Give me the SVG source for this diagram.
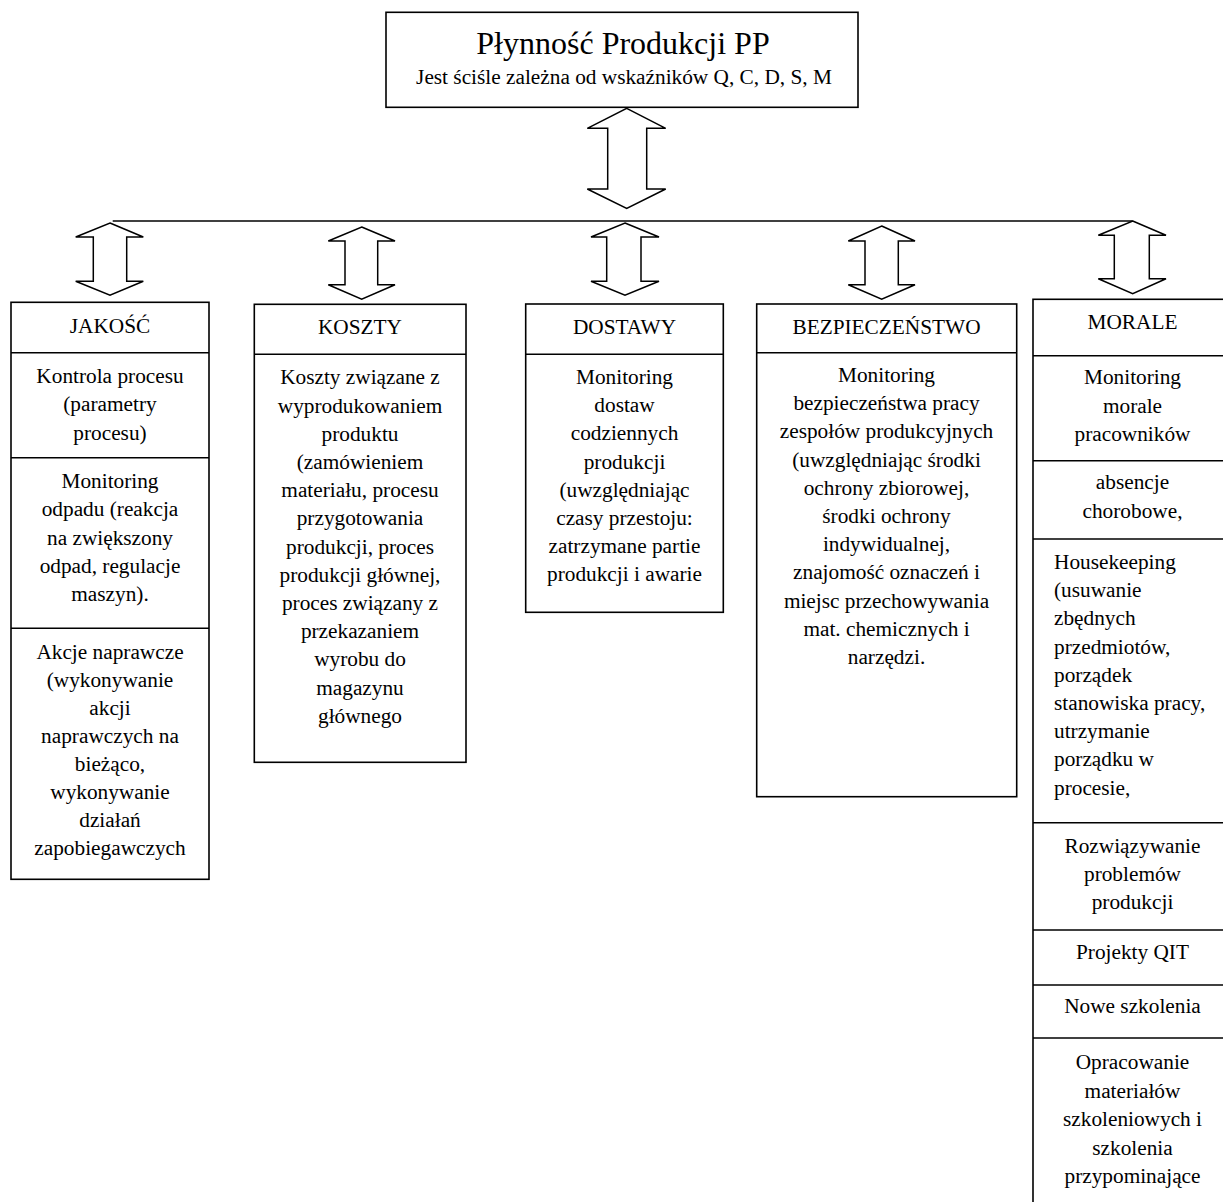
<svg xmlns="http://www.w3.org/2000/svg" width="1223" height="1202" viewBox="0 0 1223 1202">
  <style>
    .box { fill: #ffffff; stroke: #000000; stroke-width: 1.6; }
    .sep { fill: none; stroke: #000000; stroke-width: 1.6; }
    .arrow { fill: #ffffff; stroke: #000000; stroke-width: 1.5; stroke-linejoin: miter; }
    .bus { fill: none; stroke: #000000; stroke-width: 1.5; }
    text { font-family: "Liberation Serif", "Times New Roman", serif; fill: #000000; }
    .title { font-size: 32px; text-anchor: middle; }
    .t { font-size: 21.3px; text-anchor: middle; }
    .tl { font-size: 21.3px; text-anchor: start; }
  </style>

  <rect width="1223" height="1202" fill="#ffffff"/>

  <!-- root node -->
  <g id="node-pp">
    <rect class="box" x="386" y="12.3" width="472" height="95"/>
    <text class="title" x="623" y="53.5">Płynność Produkcji PP</text>
    <text class="t" x="624" y="83.5">Jest ściśle zależna od wskaźników Q, C, D, S, M</text>
  </g>

  <!-- connectors: bus line and double-headed block arrows -->
  <g id="connectors">
    <line class="bus" x1="112.7" y1="221" x2="1132.7" y2="221"/>
    <!-- root to bus -->
    <path class="arrow" d="M626.7,108.3 L665.7,128.3 L646.7,128.3 L646.7,189 L665.7,189 L626.7,208.3 L587.3,189 L607.7,189 L607.7,128.3 L587.3,128.3 Z"/>
    <!-- bus to JAKOŚĆ -->
    <path class="arrow" d="M110,223 L143.3,237 L126.7,237 L126.7,281.3 L143.3,281.3 L110,295.3 L75.7,281.3 L93.3,281.3 L93.3,237 L75.7,237 Z"/>
    <!-- bus to KOSZTY -->
    <path class="arrow" d="M361.7,227 L395,241 L377.7,241 L377.7,284.7 L395,284.7 L361.7,299.3 L328.3,284.7 L345,284.7 L345,241 L328.3,241 Z"/>
    <!-- bus to DOSTAWY -->
    <path class="arrow" d="M625,223 L659,237 L641,237 L641,281.3 L659,281.3 L625,295.3 L591,281.3 L606.7,281.3 L606.7,237 L591,237 Z"/>
    <!-- bus to BEZPIECZEŃSTWO -->
    <path class="arrow" d="M881.7,226 L915,241 L898.3,241 L898.3,284.7 L915,284.7 L881.7,299.3 L848.3,284.7 L865,284.7 L865,241 L848.3,241 Z"/>
    <!-- bus to MORALE -->
    <path class="arrow" d="M1132.7,221 L1166,235.3 L1149.3,235.3 L1149.3,278.7 L1166,278.7 L1132.7,293.7 L1098.3,278.7 L1114.3,278.7 L1114.3,235.3 L1098.3,235.3 Z"/>
  </g>

  <!-- JAKOŚĆ -->
  <g id="node-jakosc">
    <rect class="box" x="11" y="302.3" width="198" height="577"/>
    <line class="sep" x1="11" y1="352.7" x2="209" y2="352.7"/>
    <line class="sep" x1="11" y1="457.7" x2="209" y2="457.7"/>
    <line class="sep" x1="11" y1="628.3" x2="209" y2="628.3"/>
    <text class="t" x="110" y="333">JAKOŚĆ</text>
    <text class="t" x="110" y="383">Kontrola procesu</text>
    <text class="t" x="110" y="411.3">(parametry</text>
    <text class="t" x="110" y="439.6">procesu)</text>
    <text class="t" x="110" y="488">Monitoring</text>
    <text class="t" x="110" y="516.3">odpadu (reakcja</text>
    <text class="t" x="110" y="544.6">na zwiększony</text>
    <text class="t" x="110" y="572.9">odpad, regulacje</text>
    <text class="t" x="110" y="601.2">maszyn).</text>
    <text class="t" x="110" y="658.5">Akcje naprawcze</text>
    <text class="t" x="110" y="686.5">(wykonywanie</text>
    <text class="t" x="110" y="714.5">akcji</text>
    <text class="t" x="110" y="742.5">naprawczych na</text>
    <text class="t" x="110" y="770.5">bieżąco,</text>
    <text class="t" x="110" y="798.5">wykonywanie</text>
    <text class="t" x="110" y="826.5">działań</text>
    <text class="t" x="110" y="854.5">zapobiegawczych</text>
  </g>

  <!-- KOSZTY -->
  <g id="node-koszty">
    <rect class="box" x="254.3" y="304.3" width="211.7" height="458"/>
    <line class="sep" x1="254.3" y1="354.3" x2="466" y2="354.3"/>
    <text class="t" x="360" y="334">KOSZTY</text>
    <text class="t" x="360" y="384.3">Koszty związane z</text>
    <text class="t" x="360" y="412.5">wyprodukowaniem</text>
    <text class="t" x="360" y="440.7">produktu</text>
    <text class="t" x="360" y="468.9">(zamówieniem</text>
    <text class="t" x="360" y="497.1">materiału, procesu</text>
    <text class="t" x="360" y="525.3">przygotowania</text>
    <text class="t" x="360" y="553.5">produkcji, proces</text>
    <text class="t" x="360" y="581.7">produkcji głównej,</text>
    <text class="t" x="360" y="609.9">proces związany z</text>
    <text class="t" x="360" y="638.1">przekazaniem</text>
    <text class="t" x="360" y="666.3">wyrobu do</text>
    <text class="t" x="360" y="694.5">magazynu</text>
    <text class="t" x="360" y="722.7">głównego</text>
  </g>

  <!-- DOSTAWY -->
  <g id="node-dostawy">
    <rect class="box" x="525.7" y="304" width="197.6" height="308.3"/>
    <line class="sep" x1="525.7" y1="354.3" x2="723.3" y2="354.3"/>
    <text class="t" x="624.5" y="334">DOSTAWY</text>
    <text class="t" x="624.5" y="384">Monitoring</text>
    <text class="t" x="624.5" y="412.2">dostaw</text>
    <text class="t" x="624.5" y="440.4">codziennych</text>
    <text class="t" x="624.5" y="468.6">produkcji</text>
    <text class="t" x="624.5" y="496.8">(uwzględniając</text>
    <text class="t" x="624.5" y="525">czasy przestoju:</text>
    <text class="t" x="624.5" y="553.2">zatrzymane partie</text>
    <text class="t" x="624.5" y="581.4">produkcji i awarie</text>
  </g>

  <!-- BEZPIECZEŃSTWO -->
  <g id="node-bezpieczenstwo">
    <rect class="box" x="756.7" y="304" width="260" height="492.7"/>
    <line class="sep" x1="756.7" y1="352.7" x2="1016.7" y2="352.7"/>
    <text class="t" x="886.5" y="334">BEZPIECZEŃSTWO</text>
    <text class="t" x="886.5" y="382">Monitoring</text>
    <text class="t" x="886.5" y="410.2">bezpieczeństwa pracy</text>
    <text class="t" x="886.5" y="438.4">zespołów produkcyjnych</text>
    <text class="t" x="886.5" y="466.6">(uwzględniając środki</text>
    <text class="t" x="886.5" y="494.8">ochrony zbiorowej,</text>
    <text class="t" x="886.5" y="523">środki ochrony</text>
    <text class="t" x="886.5" y="551.2">indywidualnej,</text>
    <text class="t" x="886.5" y="579.4">znajomość oznaczeń i</text>
    <text class="t" x="886.5" y="607.6">miejsc przechowywania</text>
    <text class="t" x="886.5" y="635.8">mat. chemicznych i</text>
    <text class="t" x="886.5" y="664">narzędzi.</text>
  </g>

  <!-- MORALE -->
  <g id="node-morale">
    <rect class="box" x="1033" y="299.3" width="199" height="920"/>
    <line class="sep" x1="1033" y1="355.7" x2="1232" y2="355.7"/>
    <line class="sep" x1="1033" y1="460.7" x2="1232" y2="460.7"/>
    <line class="sep" x1="1033" y1="539" x2="1232" y2="539"/>
    <line class="sep" x1="1033" y1="822.7" x2="1232" y2="822.7"/>
    <line class="sep" x1="1033" y1="930" x2="1232" y2="930"/>
    <line class="sep" x1="1033" y1="985" x2="1232" y2="985"/>
    <line class="sep" x1="1033" y1="1038" x2="1232" y2="1038"/>
    <text class="t" x="1132.5" y="329">MORALE</text>
    <text class="t" x="1132.5" y="384">Monitoring</text>
    <text class="t" x="1132.5" y="412.5">morale</text>
    <text class="t" x="1132.5" y="441">pracowników</text>
    <text class="t" x="1132.5" y="489">absencje</text>
    <text class="t" x="1132.5" y="517.5">chorobowe,</text>
    <text class="tl" x="1054" y="569">Housekeeping</text>
    <text class="tl" x="1054" y="597.2">(usuwanie</text>
    <text class="tl" x="1054" y="625.4">zbędnych</text>
    <text class="tl" x="1054" y="653.6">przedmiotów,</text>
    <text class="tl" x="1054" y="681.8">porządek</text>
    <text class="tl" x="1054" y="710">stanowiska pracy,</text>
    <text class="tl" x="1054" y="738.2">utrzymanie</text>
    <text class="tl" x="1054" y="766.4">porządku w</text>
    <text class="tl" x="1054" y="794.6">procesie,</text>
    <text class="t" x="1132.5" y="853">Rozwiązywanie</text>
    <text class="t" x="1132.5" y="881">problemów</text>
    <text class="t" x="1132.5" y="909.3">produkcji</text>
    <text class="t" x="1132.5" y="959">Projekty QIT</text>
    <text class="t" x="1132.5" y="1013">Nowe szkolenia</text>
    <text class="t" x="1132.5" y="1069">Opracowanie</text>
    <text class="t" x="1132.5" y="1097.5">materiałów</text>
    <text class="t" x="1132.5" y="1126">szkoleniowych i</text>
    <text class="t" x="1132.5" y="1154.5">szkolenia</text>
    <text class="t" x="1132.5" y="1183">przypominające</text>
  </g>
</svg>
